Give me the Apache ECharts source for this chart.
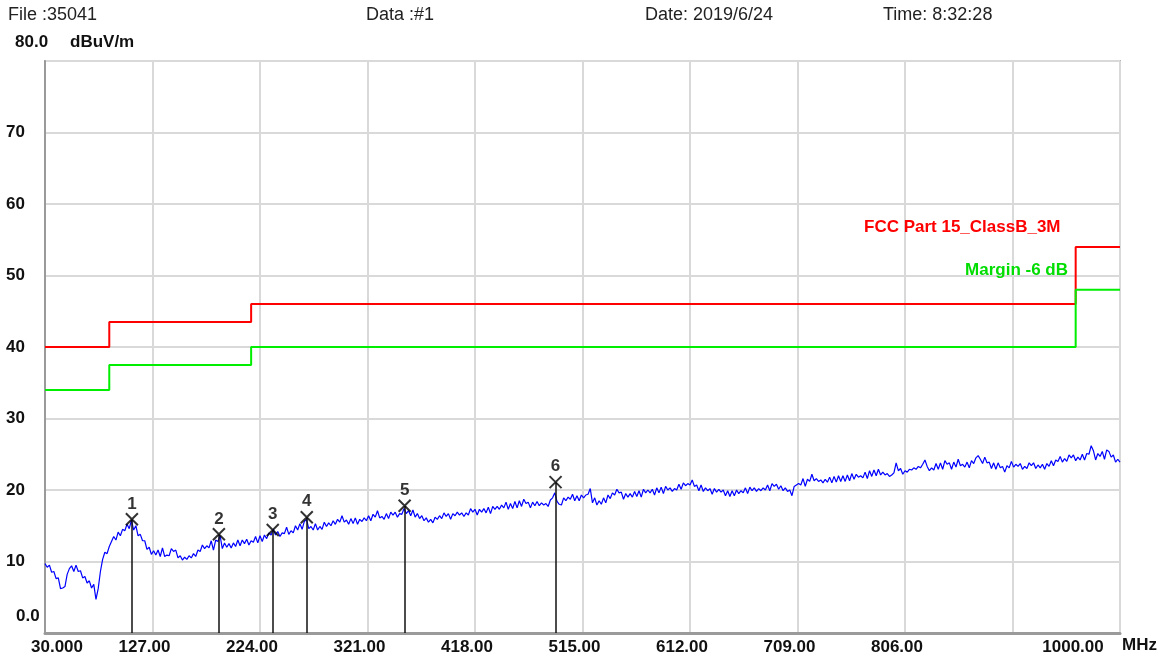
<!DOCTYPE html>
<html>
<head>
<meta charset="UTF-8">
<title>EMI scan 35041</title>
<script src="https://cdn.jsdelivr.net/npm/echarts@6/dist/echarts.min.js"></script>
<style>
  html, body { margin: 0; padding: 0; background: #fff; }
  #main { width: 1160px; height: 656px; }
</style>
</head>
<body>
<div id="main"></div>
<script>
// sweep: 30 MHz .. 1000 MHz, one reading every 2 MHz
var FREQ_START = 30;
var FREQ_STEP = 2;
var traceLevels = [
  9.7, 9.2, 9.5, 8.5, 8.6, 7.6, 7.7, 6.2, 6.3, 6.5,
  8.2, 9.0, 9.4, 8.6, 9.5, 8.6, 8.7, 7.7, 7.9, 7.0,
  7.3, 6.3, 6.8, 4.7, 6.2, 8.6, 10.3, 11.3, 11.1, 12.1,
  12.8, 13.5, 13.0, 14.1, 13.6, 14.5, 14.3, 15.2, 14.6, 15.8,
  14.4, 15.0, 13.6, 13.8, 12.9, 12.9, 11.7, 12.0, 11.0, 11.5,
  10.9, 11.6, 10.7, 11.9, 10.7, 10.9, 10.8, 11.8, 11.4, 11.6,
  10.5, 10.8, 10.2, 10.6, 10.3, 10.8, 10.5, 11.1, 10.7, 11.6,
  11.4, 12.3, 11.8, 12.2, 11.9, 12.9, 11.6, 13.0, 12.8, 13.6,
  11.8, 12.6, 12.0, 12.5, 11.9, 12.6, 12.1, 13.0, 12.2, 13.0,
  12.5, 13.1, 12.3, 12.9, 12.7, 13.5, 12.6, 13.6, 12.8, 13.7,
  13.2, 14.0, 13.7, 14.5, 13.7, 14.2, 13.5, 14.0, 13.9, 14.8,
  13.8, 14.3, 14.0, 15.0, 14.4, 15.3, 14.5, 15.6, 15.9, 14.6,
  14.9, 14.4, 15.3, 14.4, 14.9, 14.5, 15.5, 14.9, 15.4, 15.0,
  15.7, 15.2, 15.9, 15.5, 16.4, 15.5, 15.8, 15.2, 16.0, 15.3,
  16.1, 15.2, 15.9, 15.6, 16.1, 15.7, 16.4, 15.7, 16.6, 16.2,
  17.1, 16.1, 16.3, 15.9, 16.7, 16.0, 16.9, 16.5, 16.9, 16.2,
  16.7, 16.6, 17.4, 16.7, 17.1, 16.4, 17.2, 16.2, 16.7, 16.0,
  16.4, 15.7, 16.1, 15.5, 15.9, 15.4, 16.2, 15.9, 16.4, 16.0,
  16.8, 16.3, 16.7, 15.9, 16.7, 16.4, 16.9, 16.5, 16.8, 16.3,
  16.8, 16.5, 17.4, 16.9, 17.3, 16.5, 17.3, 16.9, 17.4, 16.8,
  17.6, 16.7, 17.7, 17.3, 17.7, 17.3, 17.9, 17.5, 18.3, 17.3,
  18.1, 17.4, 18.4, 17.5, 18.5, 17.7, 18.7, 18.1, 18.3, 17.5,
  18.3, 17.8, 18.4, 17.8, 18.2, 17.9, 18.1, 17.7, 18.6, 18.9,
  19.6, 18.4, 18.0, 17.9, 18.9, 18.5, 19.0, 18.7, 19.4, 18.5,
  19.2, 18.5, 19.3, 18.9, 19.3, 19.4, 20.2, 18.2, 18.9, 17.9,
  18.5, 18.0, 18.9, 18.2, 19.3, 18.8, 19.6, 19.3, 20.1, 19.6,
  19.7, 18.7, 19.5, 19.0, 19.5, 19.0, 19.8, 19.1, 19.9, 19.0,
  20.1, 19.6, 20.0, 19.6, 20.1, 19.3, 20.3, 19.6, 20.4, 19.5,
  20.5, 20.0, 20.3, 19.8, 20.2, 20.0, 20.8, 20.1, 21.0, 20.6,
  20.9, 20.7, 21.4, 20.5, 20.7, 19.9, 20.7, 19.8, 20.3, 19.9,
  20.2, 19.4, 20.2, 19.7, 20.1, 19.7, 20.0, 19.2, 19.9, 19.1,
  19.9, 19.2, 20.0, 19.5, 19.9, 19.6, 20.3, 19.5, 20.4, 19.9,
  20.3, 19.8, 20.2, 19.9, 20.3, 20.0, 20.7, 19.9, 20.9, 20.5,
  20.8, 20.1, 20.6, 19.9, 20.3, 19.8, 20.0, 19.2, 20.5, 20.7,
  20.9, 20.7, 21.6, 20.5, 21.5, 21.2, 22.2, 21.3, 21.6, 21.2,
  21.4, 21.0, 21.5, 21.1, 21.8, 21.0, 21.9, 21.1, 22.0, 21.2,
  22.0, 21.2, 22.1, 21.3, 22.3, 21.5, 22.2, 21.8, 22.0, 21.7,
  22.5, 21.6, 22.7, 21.9, 22.8, 22.0, 22.9, 22.1, 22.5, 22.1,
  22.3, 21.9, 22.1, 22.4, 23.8, 22.7, 23.0, 22.2, 22.7, 22.5,
  22.9, 22.8, 23.1, 22.9, 23.3, 23.1, 23.6, 24.2, 23.3, 22.7,
  23.1, 22.8, 23.7, 22.9, 23.8, 22.9, 24.1, 23.6, 23.8, 22.9,
  23.9, 23.2, 24.3, 23.4, 23.6, 23.2, 23.9, 23.1, 24.1, 23.7,
  24.5, 24.8, 24.3, 23.7, 24.6, 23.8, 23.9, 23.0, 23.8, 22.9,
  23.8, 23.1, 23.3, 22.5, 23.4, 23.1, 24.0, 23.2, 23.6, 23.3,
  23.7, 22.9, 23.3, 23.0, 23.8, 23.4, 23.8, 23.0, 23.5, 23.1,
  23.6, 22.9, 23.7, 23.3, 24.1, 23.4, 24.2, 24.0, 24.7, 23.9,
  24.4, 24.0, 24.9, 24.5, 24.9, 24.1, 24.6, 24.2, 25.0, 24.2,
  25.1, 25.0, 26.2, 25.5, 24.2, 25.1, 24.7, 25.4, 24.3, 25.6,
  25.4, 24.6, 24.9, 23.9, 24.3, 23.9
];

// FCC Part 15 class B, 3 m: band edges (MHz) and limit per band (dBuV/m)
var limitEdges = [30, 88, 216, 960, 1000];
var limitLevels = [40, 43.5, 46, 54];
var marginDb = 6;

// peak markers
var markerFreq = [108.4, 186.9, 235.5, 266.2, 354.5, 490.7];
var markerLevel = [15.9, 13.8, 14.4, 16.2, 17.8, 21.1];

var xTickStep = 97;
var yTicks = [0, 10, 20, 30, 40, 50, 60, 70, 80];

var FONT = '"Liberation Sans", Arial, sans-serif';

// x axis runs on (f - FREQ_START) so that the tick base is 0
function toX(f) { return f - FREQ_START; }

var trace = traceLevels.map(function (v, i) {
  return [toX(FREQ_START + i * FREQ_STEP), v];
});

function stepLine(offset) {
  var pts = [];
  for (var i = 0; i < limitLevels.length; i++) {
    pts.push([toX(limitEdges[i]), limitLevels[i] - offset]);
    pts.push([toX(limitEdges[i + 1]), limitLevels[i] - offset]);
  }
  return pts;
}

var markerPts = markerFreq.map(function (f, i) { return [toX(f), markerLevel[i]]; });
var markerStems = markerPts.map(function (p) {
  return [{ coord: [p[0], 0] }, { coord: [p[0], p[1]] }];
});

var myChart = echarts.init(document.getElementById('main'));

var option = {
  animation: false,
  backgroundColor: '#fff',
  grid: {
    left: 45, right: 40, top: 61, bottom: 23,
    show: true, borderColor: '#b4b4b4', borderWidth: 2
  },
  xAxis: {
    type: 'value',
    min: 0,
    max: toX(1000),
    interval: xTickStep,
    axisLine: { show: true, lineStyle: { color: '#9a9a9a', width: 3 } },
    axisTick: { show: false },
    splitLine: { show: true, lineStyle: { color: '#d9d9d9', width: 2 } },
    axisLabel: {
      showMinLabel: true,
      showMaxLabel: true,
      margin: 6,
      formatter: function (v) {
        var f = v + FREQ_START;
        if (v === 0) return '{f|30.000}';
        if (f === 1000) return '{l|1000.00}';
        if (f === 903) return '';
        return '{n|' + f.toFixed(2) + '}';
      },
      rich: {
        n: { fontFamily: FONT, fontSize: 17, fontWeight: 'bold', color: '#111', padding: [0, 16, 0, 0] },
        f: { fontFamily: FONT, fontSize: 17, fontWeight: 'bold', color: '#111', padding: [0, 0, 0, 24] },
        l: { fontFamily: FONT, fontSize: 17, fontWeight: 'bold', color: '#111', padding: [0, 94, 0, 0] }
      }
    }
  },
  yAxis: {
    type: 'value',
    min: yTicks[0],
    max: yTicks[yTicks.length - 1],
    interval: 10,
    axisLine: { show: true, lineStyle: { color: '#9a9a9a', width: 2 } },
    axisTick: { show: false },
    splitLine: { show: true, lineStyle: { color: '#d9d9d9', width: 2 } },
    axisLabel: {
      align: 'left',
      margin: 39,
      fontFamily: FONT, fontSize: 17, fontWeight: 'bold', color: '#111',
      formatter: function (v) {
        if (v === 0 || v === 80) return '';
        return String(v);
      }
    }
  },
  series: [
    {
      name: 'FCC Part 15_ClassB_3M',
      type: 'line',
      data: stepLine(0),
      symbol: 'none',
      lineStyle: { color: '#ff0000', width: 2 },
      z: 3
    },
    {
      name: 'Margin -6 dB',
      type: 'line',
      data: stepLine(marginDb),
      symbol: 'none',
      lineStyle: { color: '#00ee00', width: 2 },
      z: 3
    },
    {
      name: 'Trace',
      type: 'line',
      data: trace,
      symbol: 'none',
      lineStyle: { color: '#0000ff', width: 1.2 },
      z: 4
    },
    {
      name: 'Markers',
      type: 'scatter',
      data: markerPts,
      symbol: 'path://M0,0L10,10M10,0L0,10',
      symbolSize: 12,
      itemStyle: { color: 'rgba(0,0,0,0)', borderColor: '#000', borderWidth: 2 },
      label: {
        show: true,
        position: 'top',
        distance: 0,
        fontFamily: FONT, fontSize: 17, fontWeight: 'bold', color: '#000',
        formatter: function (p) { return String(p.dataIndex + 1); }
      },
      markLine: {
        silent: true,
        symbol: ['none', 'none'],
        label: { show: false },
        lineStyle: { color: '#111', width: 1.5, type: 'solid' },
        data: markerStems
      },
      z: 5
    }
  ],
  graphic: [
    { type: 'text', z: 100, left: 8, top: 6, style: { text: 'File :35041', font: '18px ' + FONT, fill: '#222' } },
    { type: 'text', z: 100, left: 366, top: 6, style: { text: 'Data :#1', font: '18px ' + FONT, fill: '#222' } },
    { type: 'text', z: 100, left: 645, top: 6, style: { text: 'Date: 2019/6/24', font: '18px ' + FONT, fill: '#222' } },
    { type: 'text', z: 100, left: 883, top: 6, style: { text: 'Time: 8:32:28', font: '18px ' + FONT, fill: '#222' } },
    { type: 'text', z: 100, left: 15, top: 34, style: { text: '80.0', font: 'bold 17px ' + FONT, fill: '#111' } },
    { type: 'text', z: 100, left: 70, top: 34, style: { text: 'dBuV/m', font: 'bold 17px ' + FONT, fill: '#111' } },
    { type: 'text', z: 100, left: 16, top: 608, style: { text: '0.0', font: 'bold 17px ' + FONT, fill: '#111' } },
    { type: 'text', z: 100, left: 1122, top: 637, style: { text: 'MHz', font: 'bold 17px ' + FONT, fill: '#111' } },
    { type: 'text', z: 100, left: 864, top: 219, style: { text: 'FCC Part 15_ClassB_3M', font: 'bold 17px ' + FONT, fill: '#ff0000' } },
    { type: 'text', z: 100, right: 92, top: 262, style: { text: 'Margin -6 dB', font: 'bold 17px ' + FONT, fill: '#00dd00' } }
  ]
};

myChart.setOption(option);
</script>
</body>
</html>
